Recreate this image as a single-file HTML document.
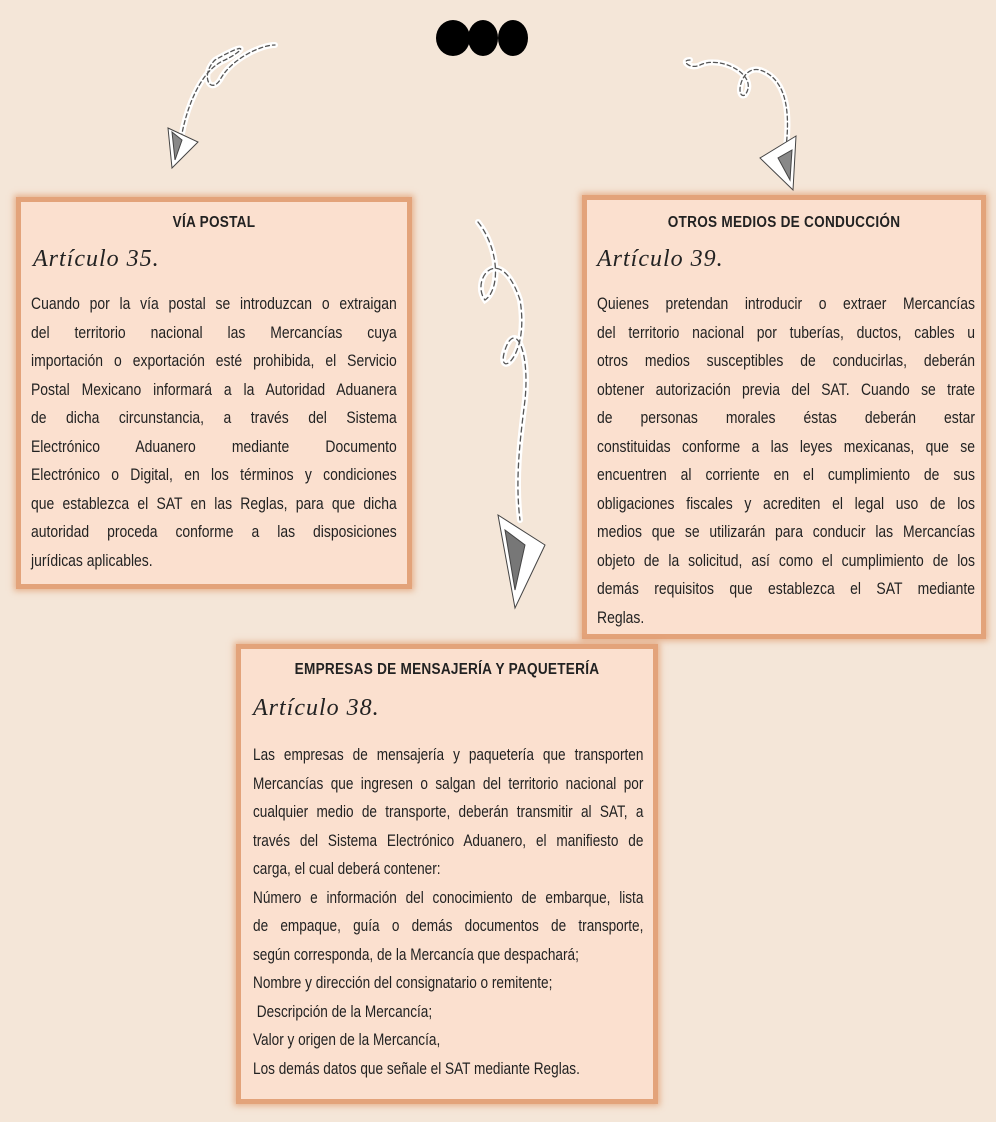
<!DOCTYPE html>
<html><head><meta charset="utf-8"><style>
body{margin:0;width:996px;height:1122px;background:#f4e6d8;position:relative;overflow:hidden;font-family:"Liberation Sans",sans-serif;color:#222}
.box{position:absolute;background:#fbe0cf;border:5px solid #e3a37a;box-shadow:0 0 6px 2px rgba(220,140,90,.6);box-sizing:border-box}
.t{position:absolute;left:0;right:0;text-align:center;font-size:16px;font-weight:bold;letter-spacing:.3px;transform:scaleX(.85)}
.a{position:absolute;font-family:"Liberation Serif",serif;font-style:italic;font-size:24px;letter-spacing:1px}
.p{position:absolute;font-size:17px;line-height:28.5px;transform-origin:0 0}
.p div{white-space:nowrap;text-align:justify;text-align-last:justify}
.p div.l{text-align-last:left}
</style></head><body>
<svg width="996" height="1122" style="position:absolute;left:0;top:0">
<ellipse cx="453" cy="38" rx="17" ry="18" fill="#000"/><ellipse cx="483" cy="38" rx="15" ry="18" fill="#000"/><ellipse cx="513" cy="38" rx="15" ry="18" fill="#000"/>
<g fill="none" stroke-linecap="round">
<path d="M180 145 C185 110,200 70,225 60 C245 50,250 40,215 60 C200 75,210 95,220 80 C230 60,260 45,275 45" stroke="#fff" stroke-width="6"/>
<path d="M180 145 C185 110,200 70,225 60 C245 50,250 40,215 60 C200 75,210 95,220 80 C230 60,260 45,275 45" stroke="#555" stroke-width="1.3" stroke-dasharray="4 3"/>
<path d="M785 155 C790 120,790 80,760 70 C740 65,735 100,745 95 C760 75,720 55,700 65 C690 70,680 60,690 60" stroke="#fff" stroke-width="6"/>
<path d="M785 155 C790 120,790 80,760 70 C740 65,735 100,745 95 C760 75,720 55,700 65 C690 70,680 60,690 60" stroke="#555" stroke-width="1.3" stroke-dasharray="4 3"/>
<path d="M478 222 C500 250,500 290,485 300 C470 280,500 240,520 300 C530 360,495 380,505 350 C515 320,530 350,525 400 C520 440,515 480,520 520" stroke="#fff" stroke-width="6"/>
<path d="M478 222 C500 250,500 290,485 300 C470 280,500 240,520 300 C530 360,495 380,505 350 C515 320,530 350,525 400 C520 440,515 480,520 520" stroke="#555" stroke-width="1.3" stroke-dasharray="5 4"/>
</g>
<g stroke="#444" stroke-width="1" fill="#fff">
<polygon points="168,128 172,168 198,142"/><polygon points="172,132 175,160 182,140" fill="#888"/>
<polygon points="796,136 793,190 760,158"/><polygon points="792,150 790,180 778,158" fill="#888"/>
<polygon points="498,515 515,608 545,545"/><polygon points="505,530 515,590 525,545" fill="#777"/>
</g>
</svg>
<div class="box" style="left:16px;top:197px;width:396px;height:392px">
<div class="t" style="top:12px">VÍA POSTAL</div>
<div class="a" style="left:12px;top:44px">Artículo 35.</div>
<div class="p" style="left:10px;top:88px;width:446px;transform:scaleX(.82)">
<div>Cuando por la vía postal se introduzcan o extraigan</div>
<div>del territorio nacional las Mercancías cuya</div>
<div>importación o exportación esté prohibida, el Servicio</div>
<div>Postal Mexicano informará a la Autoridad Aduanera</div>
<div>de dicha circunstancia, a través del Sistema</div>
<div>Electrónico Aduanero mediante Documento</div>
<div>Electrónico o Digital, en los términos y condiciones</div>
<div>que establezca el SAT en las Reglas, para que dicha</div>
<div>autoridad proceda conforme a las disposiciones</div>
<div class="l">jurídicas aplicables.</div>
</div>
</div>
<div class="box" style="left:582px;top:195px;width:404px;height:444px">
<div class="t" style="top:14px">OTROS MEDIOS DE CONDUCCIÓN</div>
<div class="a" style="left:10px;top:46px">Artículo 39.</div>
<div class="p" style="left:10px;top:90px;width:461px;transform:scaleX(.82)">
<div>Quienes pretendan introducir o extraer Mercancías</div>
<div>del territorio nacional por tuberías, ductos, cables u</div>
<div>otros medios susceptibles de conducirlas, deberán</div>
<div>obtener autorización previa del SAT. Cuando se trate</div>
<div>de personas morales éstas deberán estar</div>
<div>constituidas conforme a las leyes mexicanas, que se</div>
<div>encuentren al corriente en el cumplimiento de sus</div>
<div>obligaciones fiscales y acrediten el legal uso de los</div>
<div>medios que se utilizarán para conducir las Mercancías</div>
<div>objeto de la solicitud, así como el cumplimiento de los</div>
<div>demás requisitos que establezca el SAT mediante</div>
<div class="l">Reglas.</div>
</div>
</div>
<div class="box" style="left:236px;top:644px;width:422px;height:460px">
<div class="t" style="top:12px">EMPRESAS DE MENSAJERÍA Y PAQUETERÍA</div>
<div class="a" style="left:12px;top:46px">Artículo 38.</div>
<div class="p" style="left:12px;top:92px;width:488px;transform:scaleX(.8)">
<div>Las empresas de mensajería y paquetería que transporten</div>
<div>Mercancías que ingresen o salgan del territorio nacional por</div>
<div>cualquier medio de transporte, deberán transmitir al SAT, a</div>
<div>través del Sistema Electrónico Aduanero, el manifiesto de</div>
<div class="l">carga, el cual deberá contener:</div>
<div>Número e información del conocimiento de embarque, lista</div>
<div>de empaque, guía o demás documentos de transporte,</div>
<div class="l">según corresponda, de la Mercancía que despachará;</div>
<div class="l">Nombre y dirección del consignatario o remitente;</div>
<div class="l">&nbsp;Descripción de la Mercancía;</div>
<div class="l">Valor y origen de la Mercancía,</div>
<div class="l">Los demás datos que señale el SAT mediante Reglas.</div>
</div>
</div>
</body></html>
